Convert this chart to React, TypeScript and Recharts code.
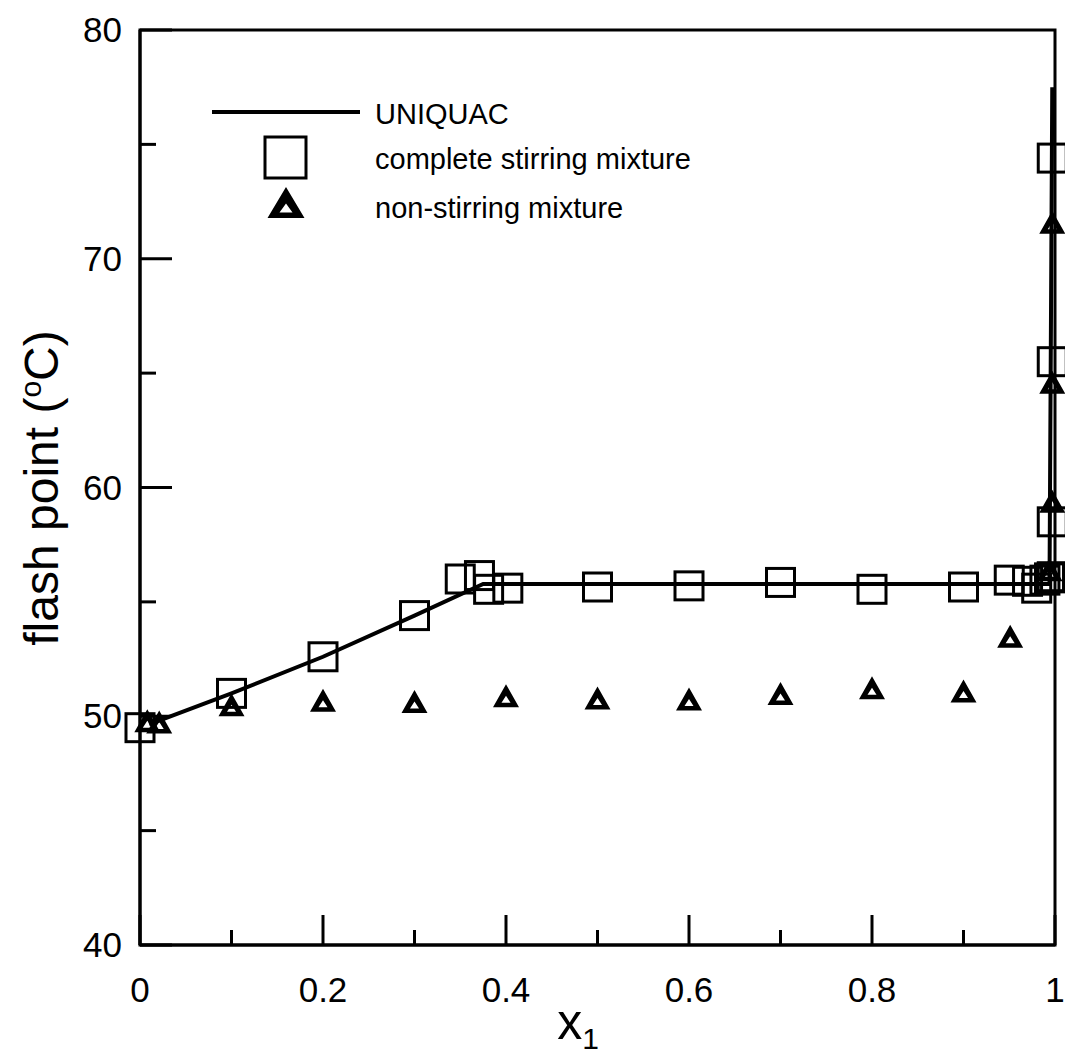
import React from 'react';
import { ScatterChart, Scatter, XAxis, YAxis, ReferenceArea } from 'recharts';

const FONT = '"Liberation Sans", Arial, sans-serif';

// UNIQUAC model curve
const uniquacX = [0.01, 0.1, 0.2, 0.3, 0.375, 0.994, 0.997];
const uniquacY = [49.65, 51.0, 52.6, 54.4, 55.78, 55.78, 77.5];

// complete stirring mixture (squares)
const stirX = [0, 0.1, 0.2, 0.3, 0.35, 0.371, 0.381, 0.402, 0.5, 0.6, 0.7, 0.8, 0.9, 0.95, 0.97, 0.98, 0.989, 0.994, 0.997, 0.997, 0.997, 0.997];
const stirY = [49.5, 51.0, 52.6, 54.4, 56.0, 56.15, 55.55, 55.6, 55.65, 55.7, 55.85, 55.55, 55.65, 55.95, 55.9, 55.6, 55.95, 56.05, 56.1, 58.5, 65.5, 74.4];

// non-stirring mixture (triangles)
const nonStirX = [0.008, 0.021, 0.1, 0.2, 0.3, 0.4, 0.5, 0.6, 0.7, 0.8, 0.9, 0.951, 0.994, 0.997, 0.997, 0.997];
const nonStirY = [49.8, 49.75, 50.5, 50.7, 50.65, 50.9, 50.8, 50.75, 51.0, 51.25, 51.1, 53.5, 56.4, 59.4, 64.6, 71.6];

const xTicks = [0, 0.1, 0.2, 0.3, 0.4, 0.5, 0.6, 0.7, 0.8, 0.9, 1];
const xLabels = ['0', '', '0.2', '', '0.4', '', '0.6', '', '0.8', '', '1'];
const yTicks = [40, 45, 50, 55, 60, 65, 70, 75, 80];
const yLabels = ['40', '', '50', '', '60', '', '70', '', '80'];

const toPoints = (xs: number[], ys: number[]) => xs.map((x, i) => ({ x, y: ys[i] }));

const uniquacData = toPoints(uniquacX, uniquacY);
const stirData = toPoints(stirX, stirY);
const nonStirData = toPoints(nonStirX, nonStirY);

const Square = (props: any) => {
  const { cx, cy } = props;
  return <rect x={cx - 14} y={cy - 14} width={28} height={28} fill="none" stroke="#000" strokeWidth={3} />;
};

const trianglePath = (cx: number, cy: number, w: number, h: number, hw: number, ht: number, hb: number) =>
  `M${cx},${cy - h / 2} L${cx + w / 2},${cy + h / 2} L${cx - w / 2},${cy + h / 2} Z ` +
  `M${cx},${cy + ht} L${cx + hw},${cy + hb} L${cx - hw},${cy + hb} Z`;

const Triangle = (props: any) => {
  const { cx, cy } = props;
  return <path d={trianglePath(cx, cy, 26, 23, 4.5, 0, 7)} fill="#000" fillRule="evenodd" />;
};

const XTick = (props: any) => {
  const { x, y, index } = props;
  const label = xLabels[index];
  const len = label ? 30 : 15;
  return (
    <g>
      <line x1={x} y1={y} x2={x} y2={y - len} stroke="#000" strokeWidth={3} />
      {label && (
        <text x={x} y={y + 57} textAnchor="middle" fontSize={35} fontFamily={FONT} fill="#000">
          {label}
        </text>
      )}
    </g>
  );
};

const YTick = (props: any) => {
  const { x, y, index } = props;
  const label = yLabels[index];
  const len = label ? 32 : 16;
  return (
    <g>
      <line x1={x} y1={y} x2={x + len} y2={y} stroke="#000" strokeWidth={3} />
      {label && (
        <text x={x - 18} y={y + 12} textAnchor="end" fontSize={35} fontFamily={FONT} fill="#000">
          {label}
        </text>
      )}
    </g>
  );
};

const LegendBox = () => (
  <svg
    width={520}
    height={150}
    style={{ position: 'absolute', left: 180, top: 80, display: 'block', pointerEvents: 'none' }}
  >
    <g transform="translate(-180,-80)">
      <line x1={212} y1={112} x2={360} y2={112} stroke="#000" strokeWidth={4} />
      <text x={375} y={124} fontSize={29} fontFamily={FONT} fill="#000">UNIQUAC</text>
      <rect x={265} y={137} width={41} height={41} fill="none" stroke="#000" strokeWidth={3} />
      <text x={375} y={169} fontSize={29} fontFamily={FONT} fill="#000">complete stirring mixture</text>
      <path d={trianglePath(286, 202.5, 37, 31, 6.5, 1, 10)} fill="#000" fillRule="evenodd" />
      <text x={375} y={218} fontSize={29} fontFamily={FONT} fill="#000">non-stirring mixture</text>
    </g>
  </svg>
);

export default function App() {
  return (
    <div style={{ position: 'absolute', left: 0, top: 0, width: 1065, height: 1061, background: '#fff' }}>
      <ScatterChart width={1065} height={1061} margin={{ top: 30, right: 10, left: 0, bottom: 0 }}>
        <XAxis
          type="number"
          dataKey="x"
          domain={[0, 1]}
          ticks={xTicks}
          interval={0}
          height={116}
          tickSize={0}
          tickMargin={0}
          tickLine={false}
          axisLine={{ stroke: '#000', strokeWidth: 3 }}
          tick={<XTick />}
          label={{
            position: 'insideBottom',
            content: () => (
              <text x={578} y={1039} textAnchor="middle" fontSize={50} fontFamily={FONT} fill="#000">
                x<tspan fontSize={30} dy={10}>1</tspan>
              </text>
            ),
          }}
        />
        <YAxis
          type="number"
          dataKey="y"
          domain={[40, 80]}
          ticks={yTicks}
          interval={0}
          width={140}
          tickSize={0}
          tickMargin={0}
          tickLine={false}
          axisLine={{ stroke: '#000', strokeWidth: 3 }}
          tick={<YTick />}
          label={{
            position: 'insideLeft',
            content: () => (
              <text
                x={58}
                y={488}
                transform="rotate(-90 58 488)"
                textAnchor="middle"
                fontSize={48}
                fontFamily={FONT}
                fill="#000"
              >
                flash point (<tspan fontSize={30} dy={-17}>o</tspan>
                <tspan dy={17}>C)</tspan>
              </text>
            ),
          }}
        />
        <ReferenceArea x1={0} x2={1} y1={40} y2={80} fill="none" stroke="#000" strokeWidth={3} ifOverflow="visible" />
        <Scatter
          data={uniquacData}
          line={{ stroke: '#000', strokeWidth: 4 }}
          lineType="joint"
          shape={() => <g />}
          isAnimationActive={false}
        />
        <Scatter data={stirData} shape={<Square />} isAnimationActive={false} />
        <Scatter data={nonStirData} shape={<Triangle />} isAnimationActive={false} />
      </ScatterChart>
      <LegendBox />
    </div>
  );
}
